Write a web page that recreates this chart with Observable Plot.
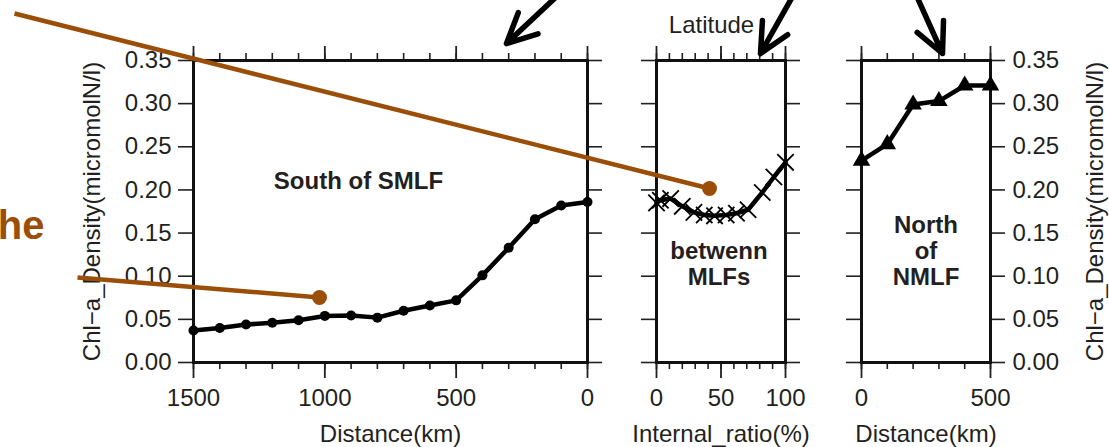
<!DOCTYPE html>
<html><head><meta charset="utf-8">
<script src="https://cdn.jsdelivr.net/npm/d3@7"></script>
<script src="https://cdn.jsdelivr.net/npm/@observablehq/plot@0.6"></script>
<style>
html,body{margin:0;padding:0;background:#fff;}
#wrap{position:relative;width:1109px;height:447px;overflow:hidden;background:#fff;}
#wrap svg{position:absolute;left:0;top:0;}
</style></head><body><div id="wrap"></div>
<script>
// ---- data ----
const yTicks = [0, 0.05, 0.10, 0.15, 0.20, 0.25, 0.30, 0.35];

const southDist = [1500, 1400, 1300, 1200, 1100, 1000, 900, 800, 700, 600, 500, 400, 300, 200, 100, 0];
const southChl  = [0.037, 0.040, 0.044, 0.046, 0.049, 0.054, 0.0545, 0.052, 0.060, 0.066, 0.072, 0.101, 0.133, 0.166, 0.182, 0.186];
const southMajor = [1500, 1000, 500, 0];
const southMinor = [1500, 1400, 1300, 1200, 1100, 1000, 900, 800, 700, 600, 500, 400, 300, 200, 100, 0];

const betweenRatio = [0, 3, 11, 20, 29, 37, 45, 54, 62, 71, 82, 91, 100];
const betweenChl   = [0.185, 0.188, 0.190, 0.181, 0.174, 0.171, 0.170, 0.171, 0.173, 0.177, 0.197, 0.215, 0.232];
const betweenMajor = [0, 50, 100];
const betweenMinor = [0, 10, 20, 30, 40, 50, 60, 70, 80, 90, 100];

const northDist = [0, 100, 200, 300, 400, 500];
const northChl  = [0.234, 0.253, 0.299, 0.303, 0.321, 0.321];
const northMajor = [0, 500];
const northMinor = [0, 100, 200, 300, 400, 500];

const yTitle = "Chl\u2212a_Density(micromolN/l)";

// ---- layout / style ----
const W = 1109, H = 447, TOP = 60, BOTTOM = 362;
const FONT = "'Liberation Sans', Arial, Helvetica, sans-serif";
const INK = "#231f20";
const BROWN = "#9a4e08";
const FS = 24;

function panel(cfg) {
  const data = cfg.x.map((v, i) => ({x: v, y: cfg.y[i]}));
  const blank = () => "";
  const plain = (d) => String(d);
  const marks = [
    Plot.axisX({anchor: "bottom", ticks: cfg.minor, tickSize: 7, tickFormat: blank, strokeWidth: 1.6, label: null}),
    Plot.axisX({anchor: "bottom", ticks: cfg.major, tickSize: 16, tickPadding: 10, strokeWidth: 1.8, fontSize: FS, tickFormat: plain, label: null}),
    Plot.axisX({anchor: "top", ticks: cfg.minor, tickSize: 8, tickFormat: blank, strokeWidth: 1.6, label: null}),
    Plot.axisX({anchor: "top", ticks: cfg.major, tickSize: 15, tickFormat: blank, strokeWidth: 1.8, label: null}),
    Plot.axisY({anchor: "left", ticks: yTicks, tickSize: 15, tickPadding: 7, strokeWidth: 1.6, fontSize: FS,
                tickFormat: cfg.leftLabels ? d3.format(".2f") : blank, label: null}),
    Plot.axisY({anchor: "right", ticks: yTicks, tickSize: 14, tickPadding: 8, strokeWidth: 1.6, fontSize: FS,
                tickFormat: cfg.rightLabels ? d3.format(".2f") : blank, label: null}),
    Plot.frame({stroke: "#111", strokeWidth: 3}),
    Plot.line(data, {x: "x", y: "y", stroke: "#000", strokeWidth: 4.5, strokeLinejoin: "round"}),
    cfg.symbol === "circle"
      ? Plot.dot(data, {x: "x", y: "y", r: 5, fill: "#000"})
      : cfg.symbol === "triangle"
      ? Plot.dot(data, {x: "x", y: "y", r: 6.5, symbol: "triangle", fill: "#000"})
      : Plot.dot(data, {x: "x", y: "y", r: 7.5, symbol: "times", stroke: "#000", strokeWidth: 1.8}),
    Plot.text([cfg.xTitle], {frameAnchor: "bottom", dy: 79, fontSize: FS, fill: INK}),
    Plot.text([cfg.note], {frameAnchor: "middle", dx: cfg.noteDx, dy: cfg.noteDy, fontSize: FS, fontWeight: "bold",
                           fill: INK, lineHeight: 1.1})
  ];
  if (cfg.leftTitle) marks.push(Plot.text([yTitle], {frameAnchor: "left", textAnchor: "middle", dx: -101, rotate: -90, fontSize: FS, fill: INK}));
  if (cfg.rightTitle) marks.push(Plot.text([yTitle], {frameAnchor: "right", textAnchor: "middle", dx: 105, rotate: -90, fontSize: FS, fill: INK}));
  return Plot.plot({
    width: W, height: H,
    marginLeft: cfg.left, marginRight: W - cfg.right, marginTop: TOP, marginBottom: H - BOTTOM,
    style: {fontFamily: FONT, fontSize: FS + "px", color: INK, background: "transparent", overflow: "visible"},
    x: {domain: cfg.domain, label: null},
    y: {domain: [0, 0.35], label: null},
    marks
  });
}

const wrap = document.getElementById("wrap");

wrap.appendChild(panel({
  left: 193, right: 587, domain: [1500, 0], major: southMajor, minor: southMinor,
  x: southDist, y: southChl, symbol: "circle", xTitle: "Distance(km)",
  note: "South of SMLF", noteDx: -32, noteDy: -31, leftLabels: true, leftTitle: true
}));
wrap.appendChild(panel({
  left: 656, right: 785, domain: [0, 100], major: betweenMajor, minor: betweenMinor,
  x: betweenRatio, y: betweenChl, symbol: "times", xTitle: "Internal_ratio(%)",
  note: "betwenn\nMLFs", noteDx: -2, noteDy: 52
}));
wrap.appendChild(panel({
  left: 861, right: 990, domain: [0, 500], major: northMajor, minor: northMinor,
  x: northDist, y: northChl, symbol: "triangle", xTitle: "Distance(km)",
  note: "North\nof\nNMLF", noteDx: 0, noteDy: 39, rightLabels: true, rightTitle: true
}));

// ---- overlay annotations (pixel space) ----
const pointers = [
  {x1: 14, y1: 13, x2: 709, y2: 188},
  {x1: 77, y1: 277, x2: 319, y2: 297}
];
const arrows = [
  {x1: 586, y1: -32, x2: 506, y2: 43},
  {x1: 814, y1: -43, x2: 760, y2: 53},
  {x1: 897, y1: -47, x2: 942, y2: 53}
];
wrap.appendChild(Plot.plot({
  width: W, height: H, margin: 0,
  style: {fontFamily: FONT, background: "transparent"},
  x: {type: "identity", axis: null},
  y: {type: "identity", axis: null},
  marks: [
    Plot.link(pointers, {x1: "x1", y1: "y1", x2: "x2", y2: "y2", stroke: BROWN, strokeWidth: 4.5}),
    Plot.dot(pointers, {x: "x2", y: "y2", r: 7.5, fill: BROWN}),
    Plot.arrow(arrows, {x1: "x1", y1: "y1", x2: "x2", y2: "y2", stroke: "#000", strokeWidth: 5.5,
                        headLength: 9, headAngle: 52, strokeLinecap: "round", strokeLinejoin: "round"}),
    Plot.text(["he"], {x: () => 44, y: () => 226, textAnchor: "end", fontSize: 40, fontWeight: "bold", fill: BROWN}),
    Plot.text(["Latitude"], {x: () => 711, y: () => 25, fontSize: FS, fill: INK})
  ]
}));
</script></body></html>
